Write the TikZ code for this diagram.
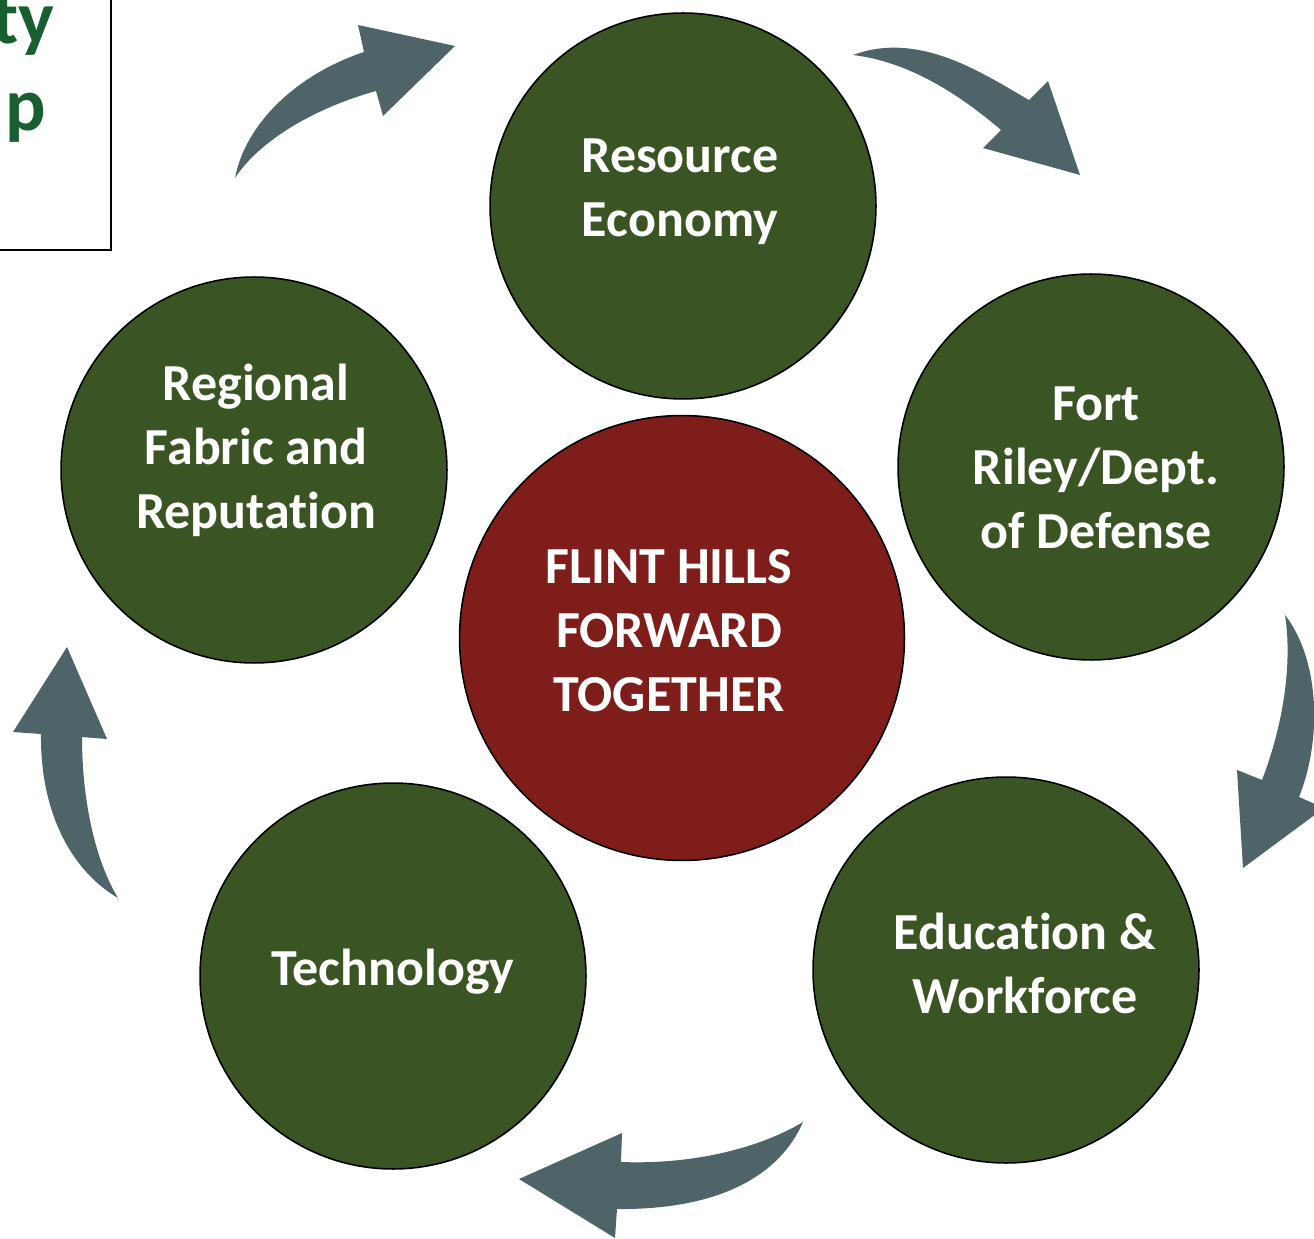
\documentclass[tikz,border=0pt]{standalone}
\usepackage{fontspec}
\setmainfont{Carlito}[Ligatures=NoCommon]
\usepackage{tikz}
\definecolor{pillargreen}{HTML}{3B5424}
\definecolor{corered}{HTML}{7F1D1B}
\definecolor{turngray}{HTML}{4F6468}
\definecolor{titlegreen}{HTML}{185E30}
\tikzset{
	pillar/.style = {
		circle,
		draw = black,
		line width = 0.9pt,
		fill = pillargreen,
		minimum size = 7.72cm,
		inner sep = 0pt
	},
	core/.style = {
		pillar,
		fill = corered,
		minimum size = 8.9cm
	},
	words/.style = {
		white,
		align = center,
		font = \fontsize{29.6}{36.4}\selectfont\bfseries
	},
	turn/.style = {
		fill = turngray,
		draw = none
	},
	title/.style = {
		titlegreen,
		anchor = base east,
		inner sep = 0pt,
		font = \fontsize{43}{52}\selectfont\bfseries
	}
}

\begin{document}
\begin{tikzpicture}[x=0.02cm, y=-0.02cm]
		\useasboundingbox (0,0) rectangle (1314,1239);
		
		% title box, cut by the page edge
		\draw[line width=1.2pt] (111,-10) -- (111,250) -- (-10,250);
		\node[title] (titletop) at (55,44) {ty};
		\node[title] (titlelow) at (46,131) {p};
		
		% circles
		\node[pillar] (resource) at (683,206) {};
		\node[pillar] (fort) at (1091,467) {};
		\node[pillar] (regional) at (254,470) {};
		\node[core] (flint) at (682,638) {};
		\node[pillar] (tech) at (393,976) {};
		\node[pillar] (edu) at (1006,970) {};
		
		\node[words] (resourcetext) at (680,192) {Resource\\Economy};
		\node[words] (forttext) at (1096,468) {Fort\\Riley/Dept.\\of Defense};
		\node[words] (regionaltext) at (256,450) {Regional\\Fabric and\\Reputation};
		\node[words] (flinttext) at (669,631) {FLINT HILLS\\FORWARD\\TOGETHER};
		\node[words] (techtext) at (393,972) {Technology};
		\node[words] (edutext) at (1025,963) {Education \&\\Workforce};
		
		% curved arrows
		\fill[turn] (235,178) .. controls (245,125) and (295,75) .. (364,52) -- (358,25) -- (455,46)
			-- (383,116) -- (376,91) .. controls (315,108) and (260,140) .. (235,178) -- cycle;
		\fill[turn] (853,55) .. controls (920,30) and (985,75) .. (1029,100) -- (1048,81) -- (1080,175)
			-- (983,148) -- (1001,130) .. controls (960,95) and (910,62) .. (853,55) -- cycle;
		\fill[turn] (1285,615) .. controls (1320,660) and (1322,740) .. (1299,797) -- (1324,808) -- (1243,868)
			-- (1237,770) -- (1262,780) .. controls (1285,720) and (1292,660) .. (1285,615) -- cycle;
		\fill[turn] (803,1122) .. controls (780,1175) and (720,1210) .. (617,1209) -- (615,1238) -- (519,1179)
			-- (622,1133) -- (621,1162) .. controls (700,1165) and (765,1145) .. (803,1122) -- cycle;
		\fill[turn] (67,647) -- (107,739) -- (82,737) .. controls (82,800) and (95,860) .. (118,898)
			.. controls (70,870) and (40,810) .. (41,734) -- (13,732) -- cycle;
	\end{tikzpicture}
\end{document}
